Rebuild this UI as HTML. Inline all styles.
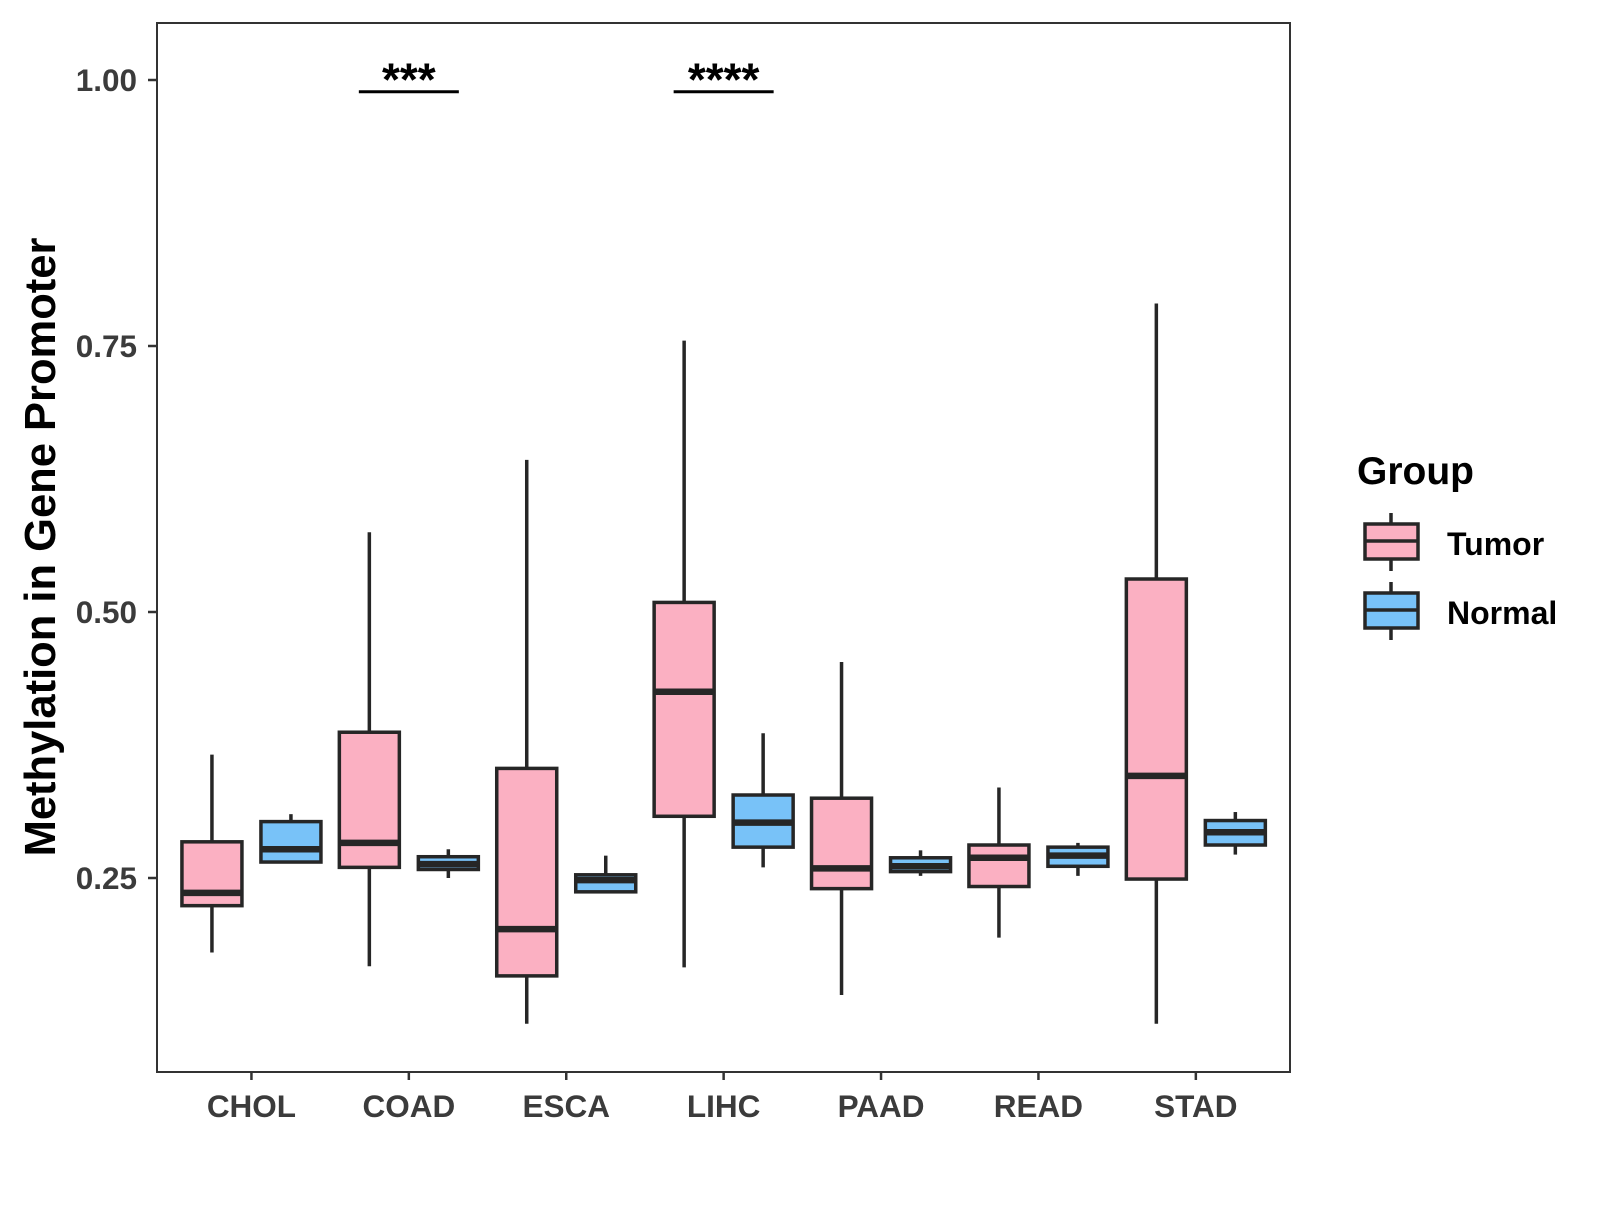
<!DOCTYPE html>
<html><head><meta charset="utf-8"><style>
html,body{margin:0;padding:0;background:#fff;}
svg text{font-family:"Liberation Sans",Arial,sans-serif;font-weight:bold;}
</style></head><body>
<svg id="chart" width="1600" height="1200" viewBox="0 0 1600 1200" xmlns="http://www.w3.org/2000/svg">
<rect x="0" y="0" width="1600" height="1200" fill="#fff"/>
<g id="marks"></g>
<rect x="157" y="23" width="1133" height="1049" fill="none" stroke="#333" stroke-width="2"/>
<g id="axes"></g>
<text transform="translate(55,547) rotate(-90)" text-anchor="middle" font-size="43.5" fill="#000">Methylation in Gene Promoter</text>
<g>
<text x="1357" y="484" font-size="39" fill="#000">Group</text>
<g>
<line x1="1391" y1="513" x2="1391" y2="571" stroke="#262626" stroke-width="3.5"/>
<rect x="1365" y="524" width="53" height="35" fill="#FBB0C2" stroke="#262626" stroke-width="3.5"/>
<line x1="1365" y1="541" x2="1418" y2="541" stroke="#262626" stroke-width="3.5"/>
<text x="1447" y="555" font-size="32" fill="#000">Tumor</text>
</g>
<g>
<line x1="1391" y1="582" x2="1391" y2="640" stroke="#262626" stroke-width="3.5"/>
<rect x="1365" y="593" width="53" height="35" fill="#78C2F8" stroke="#262626" stroke-width="3.5"/>
<line x1="1365" y1="610" x2="1418" y2="610" stroke="#262626" stroke-width="3.5"/>
<text x="1447" y="624" font-size="32" fill="#000">Normal</text>
</g>
</g>
</svg>
<script>
const categories = ["CHOL","COAD","ESCA","LIHC","PAAD","READ","STAD"];
// [min, q1, median, q3, max]
const tumorStats = [
 [0.180,0.224,0.236,0.284,0.366],
 [0.167,0.260,0.283,0.387,0.575],
 [0.113,0.158,0.202,0.353,0.643],
 [0.166,0.308,0.425,0.509,0.755],
 [0.140,0.240,0.259,0.325,0.453],
 [0.194,0.242,0.269,0.281,0.335],
 [0.113,0.249,0.346,0.531,0.790]
];
const normalStats = [
 [0.265,0.265,0.277,0.303,0.310],
 [0.250,0.258,0.263,0.270,0.277],
 [0.237,0.237,0.248,0.253,0.271],
 [0.260,0.279,0.302,0.328,0.386],
 [0.252,0.256,0.261,0.269,0.276],
 [0.252,0.261,0.271,0.279,0.283],
 [0.272,0.281,0.293,0.304,0.312]
];
const yTicks = [0.25,0.50,0.75,1.00];
const yTickLabels = ["0.25","0.50","0.75","1.00"];
const sigCategories = ["COAD","LIHC"];
const sigLabels = ["***","****"];
const sigValue = 0.989;

const NS="http://www.w3.org/2000/svg";
const yScale = v => 80 + (1 - v) * 1064;
const xScale = i => 157 + (0.6 + i) * 157.4;
const marks = document.getElementById('marks');
const axes = document.getElementById('axes');
function mk(tag, attrs, parent){const e=document.createElementNS(NS,tag);for(const k in attrs)e.setAttribute(k,attrs[k]);parent.appendChild(e);return e;}

function drawBox(cx, s, fill, name){
  const g = mk('g',{},marks);
  
  
  const w=60;
  mk('line',{x1:cx,x2:cx,y1:yScale(s[4]),y2:yScale(s[0]),stroke:'#262626','stroke-width':3.5},g);
  mk('rect',{x:cx-w/2,y:yScale(s[3]),width:w,height:Math.max(yScale(s[1])-yScale(s[3]),0.5),fill:fill,stroke:'#262626','stroke-width':3.5},g);
  mk('line',{x1:cx-w/2,x2:cx+w/2,y1:yScale(s[2]),y2:yScale(s[2]),stroke:'#262626','stroke-width':6.5},g);
}
categories.forEach((c,i)=>{
  const cx=xScale(i);
  drawBox(cx-39.5, tumorStats[i], '#FBB0C2', 'box-tumor-'+c.toLowerCase());
  drawBox(cx+39.5, normalStats[i], '#78C2F8', 'box-normal-'+c.toLowerCase());
  const t=mk('line',{x1:cx,x2:cx,y1:1072,y2:1080,stroke:'#333','stroke-width':2.5},axes);
  
  
  const l=mk('text',{x:cx,y:1117,'text-anchor':'middle','font-size':31.5,fill:'#3b3b3b'},axes);
  
  
  l.textContent=c;
});
yTicks.forEach((v,i)=>{
  const y=yScale(v);
  const t=mk('line',{x1:148,x2:157,y1:y,y2:y,stroke:'#333','stroke-width':2.5},axes);
  
  
  const l=mk('text',{x:137,y:y+11,'text-anchor':'end','font-size':31.5,fill:'#3b3b3b'},axes);
  
  
  l.textContent=yTickLabels[i];
});
sigCategories.forEach((c,k)=>{
  const cx=xScale(categories.indexOf(c));
  const y=yScale(sigValue);
  const b=mk('line',{x1:cx-50,x2:cx+50,y1:y,y2:y,stroke:'#000','stroke-width':3},marks);
  
  
  const s=mk('text',{x:cx,y:y+4,'text-anchor':'middle','font-size':46,fill:'#000'},marks);
  
  
  s.textContent=sigLabels[k];
});
</script>
</body></html>
